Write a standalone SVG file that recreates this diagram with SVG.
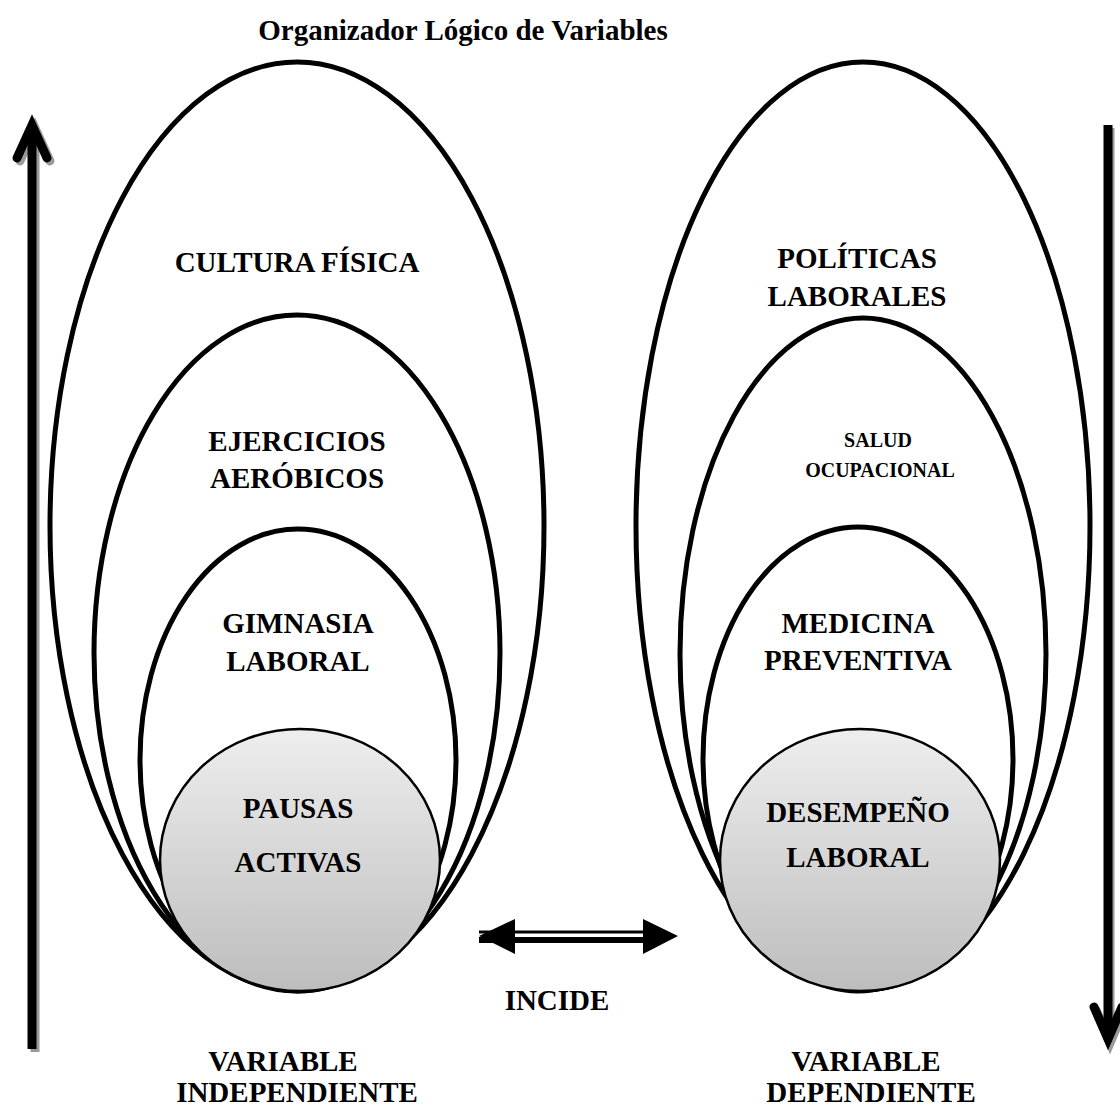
<svg xmlns="http://www.w3.org/2000/svg" width="1120" height="1110" viewBox="0 0 1120 1110">
  <style>
    .lbl { font-family: "Liberation Serif", "Times New Roman", serif; font-weight: bold; font-size: 29px; fill: #000; text-anchor: middle; }
    .small { font-size: 20px; }
    .ring { fill: none; stroke: #000; stroke-width: 5; }
    .core { fill: url(#coreFill); stroke: #000; stroke-width: 2.5; }
    .shaft { stroke: #000; stroke-width: 9; fill: none; }
    .shaftShadow { stroke: #9a9a9a; stroke-width: 9; fill: none; }
    .head { stroke: #000; stroke-width: 9; fill: none; stroke-linecap: round; stroke-linejoin: miter; }
    .headShadow { stroke: #9a9a9a; stroke-width: 9; fill: none; stroke-linecap: round; stroke-linejoin: miter; }
  </style>
  <defs>
    <linearGradient id="coreFill" x1="0" y1="0" x2="0" y2="1">
      <stop offset="0" stop-color="#eeeeee"/>
      <stop offset="1" stop-color="#bdbdbd"/>
    </linearGradient>
  </defs>

  <rect width="1120" height="1110" fill="#fff"/>

  <text class="lbl" x="463" y="40">Organizador Lógico de Variables</text>

  <!-- independent variable stack -->
  <g id="cultura-fisica">
    <ellipse class="ring" cx="297" cy="526" rx="247" ry="464"/>
    <text class="lbl" x="297" y="272">CULTURA FÍSICA</text>
  </g>
  <g id="ejercicios-aerobicos">
    <ellipse class="ring" cx="297" cy="653" rx="203" ry="338"/>
    <text class="lbl" x="297" y="451">EJERCICIOS</text>
    <text class="lbl" x="297" y="488">AERÓBICOS</text>
  </g>
  <g id="gimnasia-laboral">
    <ellipse class="ring" cx="298" cy="760" rx="158" ry="231"/>
    <text class="lbl" x="298" y="633">GIMNASIA</text>
    <text class="lbl" x="298" y="671">LABORAL</text>
  </g>
  <g id="pausas-activas">
    <ellipse class="core" cx="300" cy="860" rx="140" ry="131"/>
    <text class="lbl" x="298" y="818">PAUSAS</text>
    <text class="lbl" x="298" y="872">ACTIVAS</text>
  </g>

  <!-- dependent variable stack -->
  <g id="politicas-laborales">
    <ellipse class="ring" cx="863" cy="526" rx="227" ry="464"/>
    <text class="lbl" x="857" y="268">POLÍTICAS</text>
    <text class="lbl" x="857" y="306">LABORALES</text>
  </g>
  <g id="salud-ocupacional">
    <ellipse class="ring" cx="863" cy="654" rx="183" ry="336"/>
    <text class="lbl small" x="878" y="447">SALUD</text>
    <text class="lbl small" x="880" y="477">OCUPACIONAL</text>
  </g>
  <g id="medicina-preventiva">
    <ellipse class="ring" cx="858" cy="759" rx="155" ry="232"/>
    <text class="lbl" x="858" y="633">MEDICINA</text>
    <text class="lbl" x="858" y="670">PREVENTIVA</text>
  </g>
  <g id="desempeno-laboral">
    <ellipse class="core" cx="860" cy="860" rx="140" ry="131"/>
    <text class="lbl" x="858" y="822">DESEMPEÑO</text>
    <text class="lbl" x="858" y="867">LABORAL</text>
  </g>

  <g id="connectors">
    <!-- upward arrow, left margin -->
    <line class="shaftShadow" x1="35" y1="134" x2="35" y2="1052"/>
    <polyline class="headShadow" points="20,161 35,128 50,161"/>
    <line class="shaft" x1="32" y1="130" x2="32" y2="1049"/>
    <polyline class="head" points="17,158 32,125 47,158"/>

    <!-- downward arrow, right margin -->
    <line class="shaftShadow" x1="1110" y1="128" x2="1110" y2="1030"/>
    <polyline class="headShadow" points="1096,1010 1110,1043 1124,1010"/>
    <line class="shaft" x1="1108" y1="125" x2="1108" y2="1030"/>
    <polyline class="head" points="1094,1007 1108,1039 1122,1007"/>

    <!-- two-way arrow between the stacks -->
    <line x1="479" y1="932" x2="660" y2="932" stroke="#000" stroke-width="3"/>
    <line x1="479" y1="940" x2="660" y2="940" stroke="#000" stroke-width="6"/>
    <polygon points="479,936 515,919 515,954" fill="#000"/>
    <polygon points="678,936 643,919 643,954" fill="#000"/>
  </g>

  <text class="lbl" x="557" y="1010">INCIDE</text>
  <text class="lbl" x="283" y="1071">VARIABLE</text>
  <text class="lbl" x="297" y="1102">INDEPENDIENTE</text>
  <text class="lbl" x="866" y="1071">VARIABLE</text>
  <text class="lbl" x="871" y="1102">DEPENDIENTE</text>
</svg>
